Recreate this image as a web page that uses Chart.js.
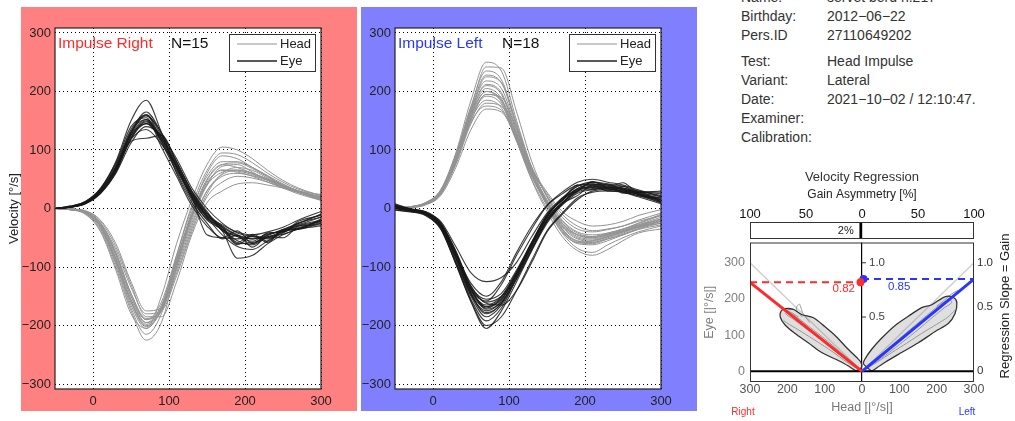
<!DOCTYPE html>
<html>
<head>
<meta charset="utf-8">
<title>Head Impulse</title>
<script src="https://cdn.jsdelivr.net/npm/chart.js@4.4.1/dist/chart.umd.min.js"></script>
<style>
  body { margin: 0; background: #fff; font-family: "Liberation Sans", Arial, sans-serif; }
  #page { position: relative; width: 1015px; height: 421px; overflow: hidden; }
  canvas { position: absolute; }
  .info { position: absolute; font-size: 14px; line-height: 18px; color: #333; white-space: nowrap; }
</style>
</head>
<body>
<div id="page">
  <canvas id="impulseRight" width="358" height="421" style="left:0;top:0"></canvas>
  <canvas id="impulseLeft" width="342" height="421" style="left:358px;top:0"></canvas>
  <canvas id="asymmetry" width="315" height="90" style="left:700px;top:150px"></canvas>
  <canvas id="regression" width="315" height="191" style="left:700px;top:230px"></canvas>
  <div id="info"></div>
</div>
<script>
// time samples of every trace [ms]
const timeMs = [-50, -30, -10, 10, 30, 50, 70, 90, 110, 130, 150, 170, 190, 210, 230, 250, 270, 300];

// Impulse Right: head velocity traces [deg/s]
const headRight = [
  [0, -1, -5, -25, -75, -145, -190, -170, -95, -20, 40, 72, 75, 62, 48, 36, 27, 16],
  [0, -2, -8, -35, -95, -170, -215, -180, -90, -5, 60, 90, 85, 70, 55, 40, 30, 20],
  [0, -1, -4, -20, -60, -125, -175, -170, -110, -35, 25, 60, 70, 65, 52, 40, 30, 18],
  [0, -2, -10, -40, -105, -180, -205, -150, -60, 15, 75, 105, 100, 85, 65, 48, 35, 22],
  [0, -1, -6, -30, -85, -155, -195, -165, -85, -10, 45, 65, 62, 55, 45, 35, 25, 14],
  [0, -1, -5, -25, -70, -135, -180, -175, -115, -40, 20, 45, 55, 52, 45, 36, 28, 18],
  [0, -2, -7, -32, -90, -160, -200, -175, -95, -15, 40, 62, 66, 60, 50, 38, 28, 16],
  [0, -1, -6, -28, -80, -150, -190, -160, -80, 0, 55, 80, 80, 70, 56, 42, 30, 18],
  [0, -2, -9, -38, -100, -175, -225, -195, -100, -10, 50, 75, 70, 60, 50, 40, 30, 20],
  [0, -1, -4, -22, -65, -130, -185, -185, -125, -45, 10, 30, 42, 44, 40, 35, 28, 20],
  [0, -1, -6, -30, -85, -158, -198, -168, -88, -12, 42, 66, 64, 58, 48, 38, 28, 15],
  [0, -2, -8, -34, -92, -165, -205, -170, -80, 5, 65, 95, 92, 78, 60, 45, 33, 22],
  [0, -1, -5, -26, -76, -145, -188, -172, -100, -25, 30, 55, 60, 56, 48, 38, 29, 17],
  [0, -1, -5, -27, -78, -150, -195, -175, -105, -30, 30, 58, 65, 60, 50, 40, 30, 24],
  [0, -2, -7, -30, -88, -160, -202, -172, -92, -15, 48, 75, 78, 68, 54, 40, 28, 14]
];

// Impulse Right: eye velocity traces [deg/s]
const eyeRight = [
  [0, 2, 9, 28, 65, 120, 148, 120, 75, 25, -8, -30, -45, -52, -44, -38, -28, -15],
  [0, 4, 12, 35, 80, 150, 185, 130, 60, 10, -25, -52, -46, -66, -48, -50, -30, -20],
  [0, 3, 10, 30, 70, 130, 160, 125, 78, 30, -5, -38, -48, -60, -45, -36, -25, -10],
  [0, 2, 8, 26, 60, 112, 140, 125, 85, 35, 0, -25, -42, -48, -52, -40, -33, -22],
  [0, 3, 11, 32, 72, 132, 152, 112, 62, 15, -18, -32, -58, -44, -56, -38, -36, -25],
  [0, 3, 10, 31, 70, 128, 158, 130, 80, 28, -10, -32, -60, -58, -50, -38, -35, -20],
  [0, 2, 9, 27, 62, 118, 135, 110, 72, 20, -15, -45, -65, -70, -55, -42, -30, -28],
  [0, 4, 12, 34, 78, 140, 155, 105, 55, 5, -30, -50, -38, -60, -42, -40, -22, -12],
  [0, 3, 10, 30, 68, 125, 145, 120, 70, 18, -20, -36, -62, -46, -58, -36, -34, -18],
  [0, 3, 9, 29, 66, 122, 150, 118, 72, 25, -12, -28, -40, -45, -40, -32, -20, -5],
  [0, 2, 8, 26, 62, 115, 120, 125, 80, 30, -8, -35, -55, -62, -48, -44, -35, -30],
  [0, 3, 11, 33, 75, 135, 160, 115, 65, 20, -45, -50, -52, -48, -50, -38, -30, -22],
  [0, 3, 10, 30, 68, 126, 152, 122, 74, 24, -14, -38, -85, -80, -60, -45, -35, -24],
  [0, 2, 9, 28, 66, 120, 145, 116, 68, 18, -16, -36, -48, -56, -42, -40, -25, -15],
  [0, 3, 10, 31, 70, 130, 165, 128, 70, 22, -12, -32, -46, -52, -46, -36, -26, -10]
];

// Impulse Left: head velocity traces [deg/s]
const headLeft = [
  [0, 2, 8, 28, 85, 165, 225, 215, 140, 65, 15, -25, -45, -50, -45, -38, -30, -22],
  [0, 3, 10, 32, 95, 185, 250, 235, 150, 70, 10, -35, -55, -58, -50, -42, -32, -20],
  [0, 2, 7, 25, 78, 150, 195, 190, 135, 70, 20, -20, -40, -45, -42, -35, -28, -18],
  [0, 2, 8, 28, 88, 165, 210, 195, 125, 55, 5, -38, -60, -62, -55, -45, -35, -25],
  [0, 1, 6, 22, 70, 135, 170, 165, 120, 65, 25, -10, -30, -38, -35, -30, -22, -12],
  [0, 2, 9, 30, 92, 175, 235, 220, 145, 68, 12, -32, -52, -56, -48, -40, -30, -18],
  [0, 2, 8, 27, 82, 158, 200, 185, 118, 50, 0, -42, -68, -75, -62, -50, -40, -30],
  [0, 2, 7, 26, 80, 152, 185, 172, 115, 55, 10, -28, -48, -52, -46, -38, -28, -15],
  [0, 3, 10, 30, 90, 172, 242, 240, 165, 80, 20, -22, -42, -48, -42, -35, -25, -10],
  [0, 2, 8, 28, 86, 162, 205, 188, 122, 58, 8, -35, -58, -60, -52, -44, -34, -22],
  [0, 2, 7, 24, 75, 145, 180, 175, 128, 70, 22, -15, -35, -40, -36, -30, -20, -8],
  [0, 2, 9, 29, 88, 168, 218, 205, 135, 62, 8, -36, -56, -58, -52, -45, -36, -28],
  [0, 2, 8, 28, 84, 160, 200, 182, 115, 48, -5, -48, -72, -80, -70, -55, -42, -35],
  [0, 2, 8, 27, 83, 156, 192, 178, 118, 55, 10, -25, -45, -50, -44, -36, -26, -12],
  [0, 3, 9, 31, 90, 170, 228, 215, 140, 62, 5, -40, -58, -55, -48, -40, -30, -18],
  [0, 2, 7, 25, 78, 148, 175, 168, 122, 68, 28, -5, -22, -30, -28, -22, -12, -2],
  [0, 2, 8, 28, 86, 163, 212, 198, 130, 60, 12, -30, -50, -54, -48, -40, -32, -22],
  [0, 2, 8, 26, 82, 155, 195, 185, 125, 58, 12, -28, -45, -48, -44, -38, -32, -25]
];

// Impulse Left: eye velocity traces [deg/s]
const eyeLeft = [
  [5, -2, -10, -30, -85, -145, -170, -155, -112, -62, -18, 10, 30, 38, 35, 32, 25, 15],
  [8, 0, -6, -25, -75, -135, -160, -150, -115, -68, -22, 8, 22, 40, 30, 38, 24, 18],
  [0, -5, -12, -35, -95, -160, -205, -175, -125, -72, -25, 8, 34, 42, 40, 35, 28, 20],
  [2, -3, -8, -28, -78, -128, -150, -125, -75, -30, 5, 25, 40, 42, 36, 34, 25, 12],
  [-2, -6, -10, -32, -90, -150, -185, -165, -120, -70, -20, 10, 30, 45, 42, 38, 30, 22],
  [4, -1, -7, -22, -65, -110, -125, -118, -92, -48, -8, 18, 38, 45, 40, 35, 30, 25],
  [1, -4, -9, -30, -82, -142, -168, -152, -108, -58, -12, 14, 33, 36, 30, 28, 22, 10],
  [6, -2, -5, -24, -72, -132, -162, -165, -140, -92, -40, -10, 15, 30, 32, 28, 20, 8],
  [0, -3, -8, -28, -80, -145, -178, -162, -115, -65, -15, 18, 30, 46, 36, 44, 28, 28],
  [3, -4, -10, -33, -92, -155, -192, -170, -118, -62, -14, 16, 38, 42, 38, 32, 26, 15],
  [-3, -5, -9, -29, -78, -138, -158, -130, -80, -35, 5, 28, 45, 50, 45, 40, 32, 20],
  [2, -2, -7, -26, -74, -136, -172, -160, -120, -70, -22, 6, 26, 32, 34, 30, 25, 12],
  [5, -1, -8, -31, -86, -148, -175, -158, -110, -58, -10, 14, 40, 32, 42, 26, 28, 12],
  [1, -3, -11, -34, -94, -158, -200, -185, -140, -88, -38, -8, 18, 28, 30, 28, 22, 16],
  [0, -4, -8, -27, -79, -140, -165, -150, -108, -60, -16, 10, 30, 36, 33, 30, 25, 18],
  [7, -1, -6, -25, -76, -138, -168, -155, -112, -64, -20, 8, 28, 34, 36, 32, 28, 30],
  [2, -3, -9, -30, -84, -146, -180, -162, -114, -60, -12, 15, 34, 40, 37, 33, 27, 14],
  [4, -2, -7, -27, -77, -134, -155, -145, -105, -57, -12, 14, 32, 38, 34, 30, 24, 10]
];

const velXTicks = [0, 100, 200, 300];
const velYTicks = [-300, -200, -100, 0, 100, 200, 300];
const legendLabels = ['Head', 'Eye'];

// velocity regression
const gainRight = 0.82;
const gainLeft = 0.85;
const gainAsymmetry = 2; // % towards the right side
const asymTicks = [-100, -50, 0, 50, 100];
const headTicks = [-300, -200, -100, 0, 100, 200, 300];
const eyeTicks = [0, 100, 200, 300];
const gainTicks = [0, 0.5, 1.0];
const innerGainTicks = [0.5, 1.0];

// density contours [head, eye], right impulses plotted on the negative side
const contourRight = [[-14, 0], [-54, 25], [-108, 52], [-144, 79], [-180, 105], [-206, 128], [-219, 150],
  [-217, 166], [-206, 173], [-184, 171], [-162, 157], [-130, 148], [-99, 123], [-68, 95], [-41, 65],
  [-14, 38], [-3, 25], [-1, 12], [-14, 0]];
const contourLeft = [[26, 0], [62, 25], [106, 52], [151, 79], [196, 110], [231, 132], [249, 159],
  [254, 190], [245, 204], [222, 206], [187, 184], [160, 176], [124, 152], [88, 126], [53, 92],
  [26, 61], [8, 34], [4, 21], [26, 0]];

// sample regression traces [head, eye]
const samplesRight = [
  [[0, 0], [-30, 22], [-70, 55], [-110, 88], [-150, 118], [-185, 145], [-205, 160], [-195, 165], [-170, 150]],
  [[0, 0], [-25, 25], [-60, 55], [-100, 90], [-140, 122], [-175, 150], [-200, 168], [-185, 172]],
  [[0, 0], [-40, 25], [-80, 55], [-120, 82], [-160, 108], [-195, 130], [-210, 140]],
  [[-140, 135], [-158, 160], [-168, 186], [-176, 172], [-160, 150]]
];
const samplesLeft = [
  [[0, 0], [30, 20], [70, 50], [110, 82], [150, 115], [190, 150], [220, 175], [240, 190], [235, 200]],
  [[0, 0], [25, 25], [60, 55], [100, 90], [140, 125], [180, 160], [210, 185], [245, 205]],
  [[0, 0], [40, 25], [80, 52], [120, 78], [160, 105], [200, 130], [230, 150], [250, 170]],
  [[200, 180], [220, 196], [240, 214], [258, 224]]
];

// patient sheet
const infoLabels = ['Name:', 'Birthday:', 'Pers.ID', 'Test:', 'Variant:', 'Date:', 'Examiner:', 'Calibration:'];
const infoValues = ['servet berd n.217', '2012\u221206\u221222', '27110649202', 'Head Impulse', 'Lateral',
  '2021\u221210\u221202 / 12:10:47.', '', ''];

const FONT = '"Liberation Sans", Arial, sans-serif';
const rightColor = '#ff2a2a';
const leftColor = '#2a36ff';
const headColor = '#939393';
const eyeColor = 'rgba(25,25,25,0.85)';

Chart.defaults.font.family = FONT;
Chart.defaults.animation = false;
Chart.defaults.plugins.legend.display = false;
Chart.defaults.plugins.tooltip.enabled = false;

const minus = v => String(v).replace('-', '\u2212');

// info block
const info = document.getElementById('info');
infoLabels.forEach((label, i) => {
  const y = -12 + i * 18.8 + (i >= 3 ? 8 : 0);
  const l = document.createElement('div');
  l.className = 'info';
  l.style.left = '741px';
  l.style.top = y + 'px';
  l.textContent = label;
  info.appendChild(l);
  const v = document.createElement('div');
  v.className = 'info';
  v.style.left = '827px';
  v.style.top = y + 'px';
  v.textContent = infoValues[i];
  info.appendChild(v);
});

// background, frame, caption and legend of a velocity panel
const panelPlugin = {
  id: 'panel',
  beforeDraw(chart, args, o) {
    const { ctx, chartArea: a } = chart;
    ctx.save();
    ctx.fillStyle = o.background;
    ctx.fillRect(o.bgLeft, 7, o.bgWidth, 404);
    ctx.fillStyle = '#fff';
    ctx.fillRect(a.left, a.top, a.width, a.height);
    ctx.restore();
  },
  afterDraw(chart, args, o) {
    const { ctx, chartArea: a } = chart;
    ctx.save();
    ctx.strokeStyle = '#222';
    ctx.lineWidth = 1.2;
    ctx.strokeRect(a.left, a.top, a.width, a.height);

    ctx.font = '15.5px ' + FONT;
    ctx.textBaseline = 'middle';
    ctx.fillStyle = o.titleColor;
    ctx.fillText(o.title, a.left + 3, a.top + 16);
    ctx.fillStyle = '#111';
    ctx.fillText('N=' + o.count, a.left + o.countOffset, a.top + 16);

    // legend
    const bx = a.right - 92, by = a.top + 6;
    ctx.fillStyle = '#fff';
    ctx.fillRect(bx, by, 86, 37);
    ctx.strokeStyle = '#333';
    ctx.lineWidth = 1;
    ctx.strokeRect(bx + 0.5, by + 0.5, 86, 37);
    ctx.font = '13px ' + FONT;
    legendLabels.forEach((label, i) => {
      const y = by + 10 + i * 17;
      ctx.strokeStyle = i === 0 ? headColor : '#222';
      ctx.lineWidth = i === 0 ? 1 : 1.6;
      ctx.beginPath();
      ctx.moveTo(bx + 8, y);
      ctx.lineTo(bx + 48, y);
      ctx.stroke();
      ctx.fillStyle = '#222';
      ctx.fillText(label, bx + 51, y);
    });
    ctx.restore();
  }
};

function traceSet(values, color, width) {
  return {
    data: timeMs.map((t, i) => ({ x: t, y: values[i] })),
    borderColor: color,
    borderWidth: width,
    pointRadius: 0,
    fill: false,
    cubicInterpolationMode: 'monotone'
  };
}

function velocityChart(id, heads, eyes, cfg) {
  const datasets = [];
  eyes.forEach(trace => datasets.push(traceSet(trace, eyeColor, 1.1)));
  heads.forEach(trace => datasets.push(traceSet(trace, headColor, 1)));
  const grid = { color: '#000', lineWidth: 1, drawTicks: false };
  const border = { display: false, dash: [1, 3] };
  return new Chart(document.getElementById(id), {
    type: 'line',
    data: { datasets },
    options: {
      responsive: false,
      layout: { padding: { top: 28, right: cfg.padRight, left: 0, bottom: 0 } },
      scales: {
        x: {
          type: 'linear', min: -50, max: 300,
          afterBuildTicks: s => { s.ticks = velXTicks.map(v => ({ value: v })); },
          afterFit: s => { s.height = 32; },
          grid, border,
          ticks: { color: '#222', font: { size: 13 }, padding: 4.5, maxRotation: 0, callback: v => minus(v) }
        },
        y: {
          min: -308.5, max: 308.5,
          afterBuildTicks: s => { s.ticks = velYTicks.map(v => ({ value: v })); },
          afterFit: s => { s.width = cfg.axisWidth; },
          grid, border,
          ticks: { color: '#222', font: { size: 13 }, padding: 4, callback: v => minus(v) },
          title: {
            display: !!cfg.yTitle, text: cfg.yTitle || '', color: '#222',
            font: { size: 13 }, padding: { top: 6.5, bottom: 0 }
          }
        }
      },
      plugins: {
        panel: {
          background: cfg.background, bgLeft: cfg.bgLeft, bgWidth: 336,
          title: cfg.title, titleColor: cfg.titleColor,
          count: heads.length, countOffset: cfg.countOffset
        }
      }
    },
    plugins: [panelPlugin]
  });
}

velocityChart('impulseRight', headRight, eyeRight, {
  padRight: 37, axisWidth: 55, yTitle: 'Velocity [\u00b0/s]',
  background: '#ff8080', bgLeft: 21,
  title: 'Impulse Right', titleColor: rightColor, countOffset: 116
});

velocityChart('impulseLeft', headLeft, eyeLeft, {
  padRight: 39, axisWidth: 37, yTitle: null,
  background: '#8080ff', bgLeft: 3,
  title: 'Impulse Left', titleColor: leftColor, countOffset: 107
});

// gain asymmetry strip
const stripPlugin = {
  id: 'strip',
  afterDraw(chart) {
    const { ctx, chartArea: a, scales } = chart;
    ctx.save();
    ctx.strokeStyle = '#333';
    ctx.lineWidth = 1;
    ctx.strokeRect(a.left + 0.5, a.top + 0.5, a.width - 1, a.height);
    ctx.font = '11px ' + FONT;
    ctx.textAlign = 'right';
    ctx.textBaseline = 'middle';
    ctx.fillStyle = '#222';
    ctx.fillText(gainAsymmetry + '%', scales.x.getPixelForValue(-gainAsymmetry) - 6, (a.top + a.bottom) / 2 + 1);
    ctx.restore();
  }
};

const centerGrid = {
  color: c => (c.tick && c.tick.value === 0) ? '#000' : 'rgba(0,0,0,0)',
  lineWidth: 1.2,
  drawTicks: false
};

new Chart(document.getElementById('asymmetry'), {
  type: 'bar',
  data: {
    labels: ['asymmetry'],
    datasets: [{
      data: [[-gainAsymmetry, 0]],
      backgroundColor: '#000',
      borderWidth: 0,
      barPercentage: 1,
      categoryPercentage: 1
    }]
  },
  options: {
    responsive: false,
    indexAxis: 'y',
    layout: { padding: { left: 50, right: 41, top: 0, bottom: 2 } },
    plugins: {
      title: {
        display: true, text: 'Velocity Regression', color: '#333',
        font: { size: 13, weight: 'normal' }, padding: { top: 19.6, bottom: 0 }
      }
    },
    scales: {
      x: {
        position: 'top', min: -100, max: 100,
        afterBuildTicks: s => { s.ticks = asymTicks.map(v => ({ value: v })); },
        afterFit: s => { s.height = 36.8; },
        grid: centerGrid,
        border: { display: false },
        ticks: { color: '#111', font: { size: 13 }, padding: 0, maxRotation: 0, callback: v => Math.abs(v) },
        title: {
          display: true, text: 'Gain Asymmetry [%]', color: '#222',
          font: { size: 12 }, padding: { top: 2.6, bottom: 0 }
        }
      },
      y: { display: false }
    }
  },
  plugins: [stripPlugin]
});

// velocity regression plot
const regressionPlugin = {
  id: 'regressionNotes',
  afterDraw(chart) {
    const { ctx, chartArea: a, scales } = chart;
    const xs = scales.x, ys = scales.y;
    const cx = xs.getPixelForValue(0);
    ctx.save();
    ctx.strokeStyle = '#333';
    ctx.lineWidth = 1;
    ctx.strokeRect(a.left + 0.5, a.top + 0.5, a.width - 1, a.height - 1);

    ctx.textBaseline = 'middle';
    ctx.font = '11.5px ' + FONT;
    ctx.fillStyle = '#444';
    ctx.textAlign = 'left';
    innerGainTicks.forEach(g => {
      const y = ys.getPixelForValue(300 * g);
      ctx.beginPath();
      ctx.moveTo(cx, y);
      ctx.lineTo(cx + 4, y);
      ctx.stroke();
      ctx.fillText(g.toFixed(1), cx + 7, y);
    });

    ctx.fillStyle = rightColor;
    ctx.textAlign = 'right';
    ctx.fillText(gainRight.toFixed(2), cx - 7, ys.getPixelForValue(300 * gainRight) + 7);
    ctx.fillStyle = leftColor;
    ctx.textAlign = 'left';
    ctx.fillText(gainLeft.toFixed(2), cx + 26, ys.getPixelForValue(300 * gainLeft) + 8);

    ctx.font = '10px ' + FONT;
    ctx.textAlign = 'center';
    ctx.fillStyle = rightColor;
    ctx.fillText('Right', a.left - 7, 182);
    ctx.fillStyle = leftColor;
    ctx.fillText('Left', a.right - 7, 182);

    ctx.font = '13px ' + FONT;
    ctx.fillStyle = '#222';
    ctx.translate(305, 76);
    ctx.rotate(-Math.PI / 2);
    ctx.fillText('Regression Slope = Gain', 0, 0);
    ctx.restore();
  }
};

const pts = list => list.map(p => ({ x: p[0], y: p[1] }));
const lineSet = (data, color, width, extra) => Object.assign({
  data, borderColor: color, borderWidth: width, showLine: true, pointRadius: 0, fill: false
}, extra || {});

const regressionSets = [
  lineSet([{ x: -4, y: 300 * gainRight }], rightColor, 0, { showLine: false, pointRadius: 4, backgroundColor: rightColor }),
  lineSet([{ x: 4, y: 300 * gainLeft }], leftColor, 0, { showLine: false, pointRadius: 4, backgroundColor: leftColor }),
  lineSet([{ x: -300, y: 300 * gainRight }, { x: 0, y: 0 }], rightColor, 3),
  lineSet([{ x: 0, y: 0 }, { x: 300, y: 300 * gainLeft }], leftColor, 3),
  lineSet([{ x: -300, y: 300 * gainRight }, { x: 0, y: 300 * gainRight }], rightColor, 2, { borderDash: [7, 5] }),
  lineSet([{ x: 0, y: 300 * gainLeft }, { x: 300, y: 300 * gainLeft }], leftColor, 2, { borderDash: [7, 5] }),
  lineSet([{ x: -300, y: 0 }, { x: 300, y: 0 }], '#000', 2),
  lineSet(pts(contourRight), '#333', 1.3, { fill: 'shape', backgroundColor: 'rgba(150,150,150,0.3)', tension: 0.3 }),
  lineSet(pts(contourLeft), '#333', 1.3, { fill: 'shape', backgroundColor: 'rgba(150,150,150,0.3)', tension: 0.3 })
];
samplesRight.concat(samplesLeft).forEach(s => regressionSets.push(lineSet(pts(s), '#9a9a9a', 1, { tension: 0.3 })));
regressionSets.push(lineSet([{ x: -300, y: 300 }, { x: 0, y: 0 }, { x: 300, y: 300 }], '#cfcfcf', 1.5));

new Chart(document.getElementById('regression'), {
  type: 'scatter',
  data: { datasets: regressionSets },
  options: {
    responsive: false,
    layout: { padding: { top: 8, left: 0, right: 0, bottom: 0 } },
    scales: {
      x: {
        min: -300, max: 300,
        afterBuildTicks: s => { s.ticks = headTicks.map(v => ({ value: v })); },
        afterFit: s => { s.height = 39; },
        grid: centerGrid,
        border: { display: false },
        ticks: { color: '#555', font: { size: 12.5 }, padding: 0.5, maxRotation: 0, callback: v => Math.abs(v) },
        title: {
          display: true, text: 'Head [|\u00b0/s|]', color: '#777',
          font: { size: 12.5 }, padding: { top: 0, bottom: 5.5 }
        }
      },
      y: {
        min: -29.5, max: 356,
        afterBuildTicks: s => { s.ticks = eyeTicks.map(v => ({ value: v })); },
        afterFit: s => { s.width = 50; },
        grid: { display: false, drawTicks: false },
        border: { display: false },
        ticks: { color: '#808080', font: { size: 12.5 }, padding: 5 },
        title: {
          display: true, text: 'Eye [|\u00b0/s|]', color: '#808080',
          font: { size: 12.5 }, padding: { top: 2.5, bottom: 0 }
        }
      },
      y2: {
        position: 'right', min: -29.5, max: 356,
        afterBuildTicks: s => { s.ticks = gainTicks.map(g => ({ value: 300 * Math.atan(g) / Math.atan(1) })); },
        afterFit: s => { s.width = 41; },
        grid: { display: false, drawTicks: false },
        border: { display: false },
        ticks: { color: '#333', font: { size: 11.5 }, padding: 3, callback: (v, i) => (i === 0 ? '0' : gainTicks[i].toFixed(1)) }
      }
    }
  },
  plugins: [regressionPlugin]
});
</script>
</body>
</html>
